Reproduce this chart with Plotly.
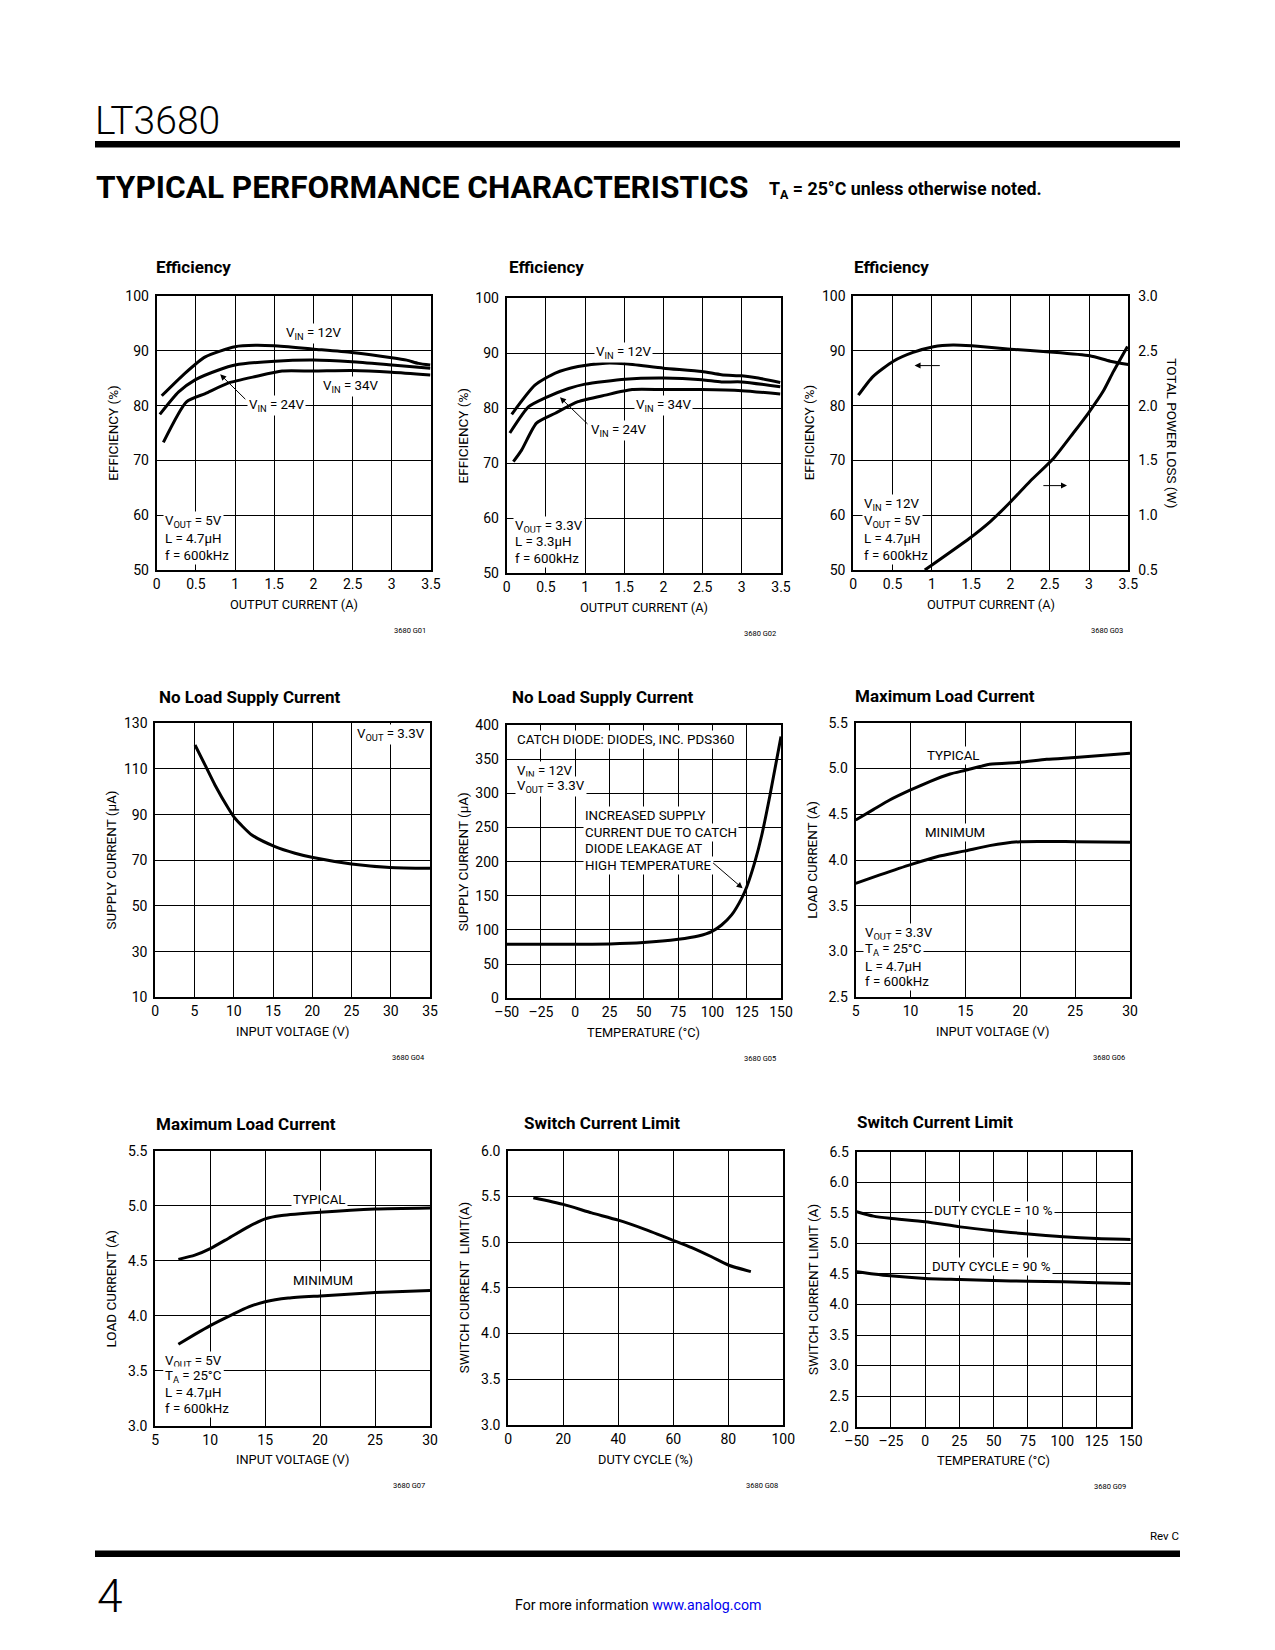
import plotly.graph_objects as go

W, H = 1275, 1650
FONT = "Roboto, Arial, sans-serif"
TICK_SIZE = 14
XTITLE_SIZE = 12.8
YTITLE_SIZE = 13.5
ANN_SIZE = 13.3

# ---------------- DATA ----------------
# Chart 1: Efficiency, VOUT=5V
c1_x_12 = [0.064, 0.36, 0.62, 1.0, 1.26, 1.5, 2.0, 2.49, 3.0, 3.19, 3.34, 3.49]
c1_y_12 = [81.8, 85.9, 88.9, 90.75, 91.0, 90.9, 90.3, 89.7, 88.75, 88.3, 87.7, 87.4]
c1_x_24 = [0.04, 0.28, 0.49, 0.79, 1.0, 1.51, 2.0, 2.49, 3.0, 3.49]
c1_y_24 = [78.4, 82.5, 84.7, 86.5, 87.4, 88.1, 88.3, 88.0, 87.4, 86.8]
c1_x_34 = [0.085, 0.38, 0.62, 0.91, 1.26, 1.6, 2.0, 2.49, 3.0, 3.49]
c1_y_34 = [73.3, 80.7, 82.2, 84.1, 85.3, 86.3, 86.3, 86.4, 86.1, 85.6]

# Chart 2: Efficiency, VOUT=3.3V
c2_x_12 = [0.064, 0.36, 0.62, 0.91, 1.26, 1.51, 2.0, 2.49, 2.74, 3.0, 3.21, 3.49]
c2_y_12 = [78.9, 84.2, 86.4, 87.6, 88.2, 88.1, 87.3, 86.7, 86.1, 85.9, 85.5, 84.7]
c2_x_24 = [0.04, 0.28, 0.49, 0.79, 1.0, 1.51, 2.0, 2.49, 2.74, 3.0, 3.49]
c2_y_24 = [75.5, 80.3, 81.9, 83.6, 84.4, 85.3, 85.5, 85.2, 84.8, 84.8, 83.9]
c2_x_34 = [0.085, 0.19, 0.38, 0.62, 0.91, 1.26, 1.6, 2.0, 2.49, 3.0, 3.49]
c2_y_34 = [70.3, 72.4, 77.3, 79.1, 81.2, 82.4, 83.4, 83.4, 83.4, 83.2, 82.6]

# Chart 3: Efficiency and total power loss, VIN=12V VOUT=5V
c3_x_eff = [0.064, 0.25, 0.51, 0.76, 1.02, 1.27, 1.51, 2.0, 2.5, 3.01, 3.27, 3.5]
c3_y_eff = [81.9, 85.3, 88.1, 89.7, 90.75, 91.06, 90.9, 90.3, 89.8, 89.1, 88.1, 87.5]
c3_x_loss = [0.91, 1.48, 1.74, 2.0, 2.25, 2.55, 2.8, 2.99, 3.18, 3.31, 3.49]
c3_y_loss = [0.5, 0.79, 0.94, 1.12, 1.31, 1.52, 1.75, 1.93, 2.13, 2.31, 2.54]

# Chart 4: No load supply current vs input voltage
c4_x = [5.06, 6.33, 7.6, 9.3, 10.15, 12.3, 15.25, 17.8, 20.1, 25.0, 29.9, 35.0]
c4_y = [120.5, 111.8, 103.0, 92.8, 88.4, 81.1, 76.0, 73.1, 71.2, 68.4, 66.9, 66.5]

# Chart 5: No load supply current vs temperature
c5_x = [-50, 0, 25.3, 49.6, 75.1, 89.7, 99.4, 106.7, 114, 121.3, 125, 131, 136, 142, 150]
c5_y = [79, 79, 79.5, 81.5, 86.3, 91.2, 97.6, 107.3, 122, 146.3, 163, 200, 239, 297.6, 383]

# Chart 6: Maximum load current, VOUT=3.3V
c6_x_typ = [5, 6.6, 8.1, 10.0, 11.8, 13.6, 15.0, 17.2, 20.0, 22.4, 25.0, 30.0]
c6_y_typ = [4.437, 4.55, 4.655, 4.765, 4.86, 4.94, 4.98, 5.045, 5.067, 5.10, 5.12, 5.165]
c6_x_min = [5, 7.2, 10.0, 12.4, 15.0, 17.2, 20.0, 25.0, 30.0]
c6_y_min = [3.745, 3.837, 3.95, 4.036, 4.10, 4.157, 4.20, 4.20, 4.193]

# Chart 7: Maximum load current, VOUT=5V
c7_x_typ = [7.1, 8.6, 10.0, 11.6, 13.5, 15.0, 16.5, 20.0, 25.0, 30.0]
c7_y_typ = [4.512, 4.55, 4.61, 4.70, 4.81, 4.88, 4.91, 4.94, 4.97, 4.98]
c7_x_min = [7.1, 8.6, 10.0, 12.0, 13.5, 15.0, 17.1, 20.0, 25.0, 30.0]
c7_y_min = [3.74, 3.83, 3.91, 4.01, 4.08, 4.127, 4.16, 4.18, 4.21, 4.23]

# Chart 8: Switch current limit vs duty cycle
c8_x = [9.1, 20, 30.3, 40, 49.7, 60, 66.7, 73.9, 80, 88.2]
c8_y = [5.486, 5.413, 5.32, 5.24, 5.14, 5.02, 4.94, 4.84, 4.75, 4.677]

# Chart 9: Switch current limit vs temperature
c9_x = [-50, -37.8, -25.7, 0, 25.4, 49.8, 75.3, 100.8, 125.2, 150]
c9_y_10 = [5.518, 5.446, 5.41, 5.354, 5.27, 5.207, 5.152, 5.109, 5.08, 5.065]
c9_y_90 = [4.536, 4.50, 4.47, 4.427, 4.41, 4.393, 4.38, 4.37, 4.356, 4.345]

# Tick labels
eff_x_ticks = [0, 0.5, 1, 1.5, 2, 2.5, 3, 3.5]
eff_x_text = ["0", "0.5", "1", "1.5", "2", "2.5", "3", "3.5"]
eff_y_ticks = [50, 60, 70, 80, 90, 100]
loss_ticks = [0.5, 1.0, 1.5, 2.0, 2.5, 3.0]
loss_text = ["0.5", "1.0", "1.5", "2.0", "2.5", "3.0"]
vin35_ticks = [0, 5, 10, 15, 20, 25, 30, 35]
supply_ticks = [10, 30, 50, 70, 90, 110, 130]
temp_ticks = [-50, -25, 0, 25, 50, 75, 100, 125, 150]
temp_text = ["\u201350", "\u201325", "0", "25", "50", "75", "100", "125", "150"]
supply2_ticks = [0, 50, 100, 150, 200, 250, 300, 350, 400]
vin30_ticks = [5, 10, 15, 20, 25, 30]
load6_ticks = [2.5, 3.0, 3.5, 4.0, 4.5, 5.0, 5.5]
load6_text = ["2.5", "3.0", "3.5", "4.0", "4.5", "5.0", "5.5"]
load7_ticks = [3.0, 3.5, 4.0, 4.5, 5.0, 5.5]
load7_text = ["3.0", "3.5", "4.0", "4.5", "5.0", "5.5"]
duty_ticks = [0, 20, 40, 60, 80, 100]
sw8_ticks = [3.0, 3.5, 4.0, 4.5, 5.0, 5.5, 6.0]
sw8_text = ["3.0", "3.5", "4.0", "4.5", "5.0", "5.5", "6.0"]
sw9_ticks = [2.0, 2.5, 3.0, 3.5, 4.0, 4.5, 5.0, 5.5, 6.0, 6.5]
sw9_text = ["2.0", "2.5", "3.0", "3.5", "4.0", "4.5", "5.0", "5.5", "6.0", "6.5"]


def X(px):
    return px / W


def Y(py):
    return 1 - py / H


# ---------------- CHART LAYOUTS ----------------
charts = [
    dict(box=(156.7, 431, 296, 570), xr=[0, 3.5], yr=[50, 100], xt=eff_x_ticks, xtt=eff_x_text,
         yt=eff_y_ticks, ytt=None, title="Efficiency", tpos=(154.3, 266.7),
         xtitle="OUTPUT CURRENT (A)", ytitle="EFFICIENCY (%)", code="3680 G01"),
    dict(box=(506.7, 781, 298.3, 573.3), xr=[0, 3.5], yr=[50, 100], xt=eff_x_ticks, xtt=eff_x_text,
         yt=eff_y_ticks, ytt=None, title="Efficiency", tpos=(506.7, 266.7),
         xtitle="OUTPUT CURRENT (A)", ytitle="EFFICIENCY (%)", code="3680 G02"),
    dict(box=(853.3, 1128.3, 296, 570), xr=[0, 3.5], yr=[50, 100], xt=eff_x_ticks, xtt=eff_x_text,
         yt=eff_y_ticks, ytt=None, title="Efficiency", tpos=(851.7, 266.7),
         xtitle="OUTPUT CURRENT (A)", ytitle="EFFICIENCY (%)", code="3680 G03"),
    dict(box=(155.3, 430, 723.3, 997.3), xr=[0, 35], yr=[10, 130], xt=vin35_ticks, xtt=None,
         yt=supply_ticks, ytt=None, title="No Load Supply Current", tpos=(157.3, 696.7),
         xtitle="INPUT VOLTAGE (V)", ytitle="SUPPLY CURRENT (\u00b5A)", code="3680 G04"),
    dict(box=(506.7, 781, 725, 998.3), xr=[-50, 150], yr=[0, 400], xt=temp_ticks, xtt=temp_text,
         yt=supply2_ticks, ytt=None, title="No Load Supply Current", tpos=(510, 697),
         xtitle="TEMPERATURE (\u00b0C)", ytitle="SUPPLY CURRENT (\u00b5A)", code="3680 G05"),
    dict(box=(855.7, 1130, 722.7, 997.3), xr=[5, 30], yr=[2.5, 5.5], xt=vin30_ticks, xtt=None,
         yt=load6_ticks, ytt=load6_text, title="Maximum Load Current", tpos=(853.3, 696),
         xtitle="INPUT VOLTAGE (V)", ytitle="LOAD CURRENT (A)", code="3680 G06"),
    dict(box=(155.3, 430, 1150.7, 1425.7), xr=[5, 30], yr=[3.0, 5.5], xt=vin30_ticks, xtt=None,
         yt=load7_ticks, ytt=load7_text, title="Maximum Load Current", tpos=(154.3, 1124.3),
         xtitle="INPUT VOLTAGE (V)", ytitle="LOAD CURRENT (A)", code="3680 G07"),
    dict(box=(508.3, 783.3, 1150.7, 1425), xr=[0, 100], yr=[3.0, 6.0], xt=duty_ticks, xtt=None,
         yt=sw8_ticks, ytt=sw8_text, title="Switch Current Limit", tpos=(522.3, 1123.3),
         xtitle="DUTY CYCLE (%)", ytitle="SWITCH CURRENT  LIMIT(A)", code="3680 G08"),
    dict(box=(856.7, 1130.7, 1151.7, 1426.7), xr=[-50, 150], yr=[2.0, 6.5], xt=temp_ticks, xtt=temp_text,
         yt=sw9_ticks, ytt=sw9_text, title="Switch Current Limit", tpos=(855, 1122.3),
         xtitle="TEMPERATURE (\u00b0C)", ytitle="SWITCH CURRENT LIMIT (A)", code="3680 G09"),
]

fig = go.Figure()
annotations = []
shapes = []
layout = {}

tickfont = dict(family=FONT, size=TICK_SIZE, color="black")

for i, c in enumerate(charts):
    n = i + 1
    sx = "" if n == 1 else str(n)
    L, R, T, B = c["box"]
    xa = dict(domain=[X(L), X(R)], range=c["xr"], anchor="y" + sx,
              tickvals=c["xt"], showgrid=True, gridcolor="black", gridwidth=1,
              showline=True, linecolor="black", linewidth=2, mirror=True,
              ticks="", zeroline=False, tickfont=tickfont, ticklabelstandoff=0,
              automargin=False, fixedrange=True)
    if c["xtt"] is not None:
        xa["ticktext"] = c["xtt"]
    ya = dict(domain=[Y(B), Y(T)], range=c["yr"], anchor="x" + sx,
              tickvals=c["yt"], showgrid=True, gridcolor="black", gridwidth=1,
              showline=True, linecolor="black", linewidth=2, mirror=True,
              ticks="", zeroline=False, tickfont=tickfont, ticklabelstandoff=3,
              automargin=False, fixedrange=True)
    if c["ytt"] is not None:
        ya["ticktext"] = c["ytt"]
    layout["xaxis" + sx] = xa
    layout["yaxis" + sx] = ya
    # chart title
    annotations.append(dict(text="<b>" + c["title"] + "</b>", x=X(c["tpos"][0]), y=Y(c["tpos"][1]),
                            xref="paper", yref="paper", xanchor="left", yanchor="middle",
                            showarrow=False, font=dict(family=FONT, size=17, color="black")))
    # axis titles
    annotations.append(dict(text=c["xtitle"], x=X((L + R) / 2), y=Y(B + 34),
                            xref="paper", yref="paper", xanchor="center", yanchor="middle",
                            showarrow=False, font=dict(family=FONT, size=XTITLE_SIZE, color="black")))
    annotations.append(dict(text=c["ytitle"], x=X(L - 44), y=Y((T + B) / 2), textangle=-90,
                            xref="paper", yref="paper", xanchor="center", yanchor="middle",
                            showarrow=False, font=dict(family=FONT, size=YTITLE_SIZE, color="black")))
    annotations.append(dict(text=c["code"], x=X(R - 3), y=Y(B + 60),
                            xref="paper", yref="paper", xanchor="right", yanchor="middle",
                            showarrow=False, font=dict(family=FONT, size=7.5, color="black")))

# secondary axis for chart 3
layout["yaxis10"] = dict(domain=layout["yaxis3"]["domain"], range=[0.5, 3.0], anchor="x3",
                         overlaying="y3", side="right", tickvals=loss_ticks, ticktext=loss_text,
                         showgrid=False, showline=False, ticks="", zeroline=False,
                         tickfont=tickfont, ticklabelstandoff=9, automargin=False, fixedrange=True)
annotations.append(dict(text="TOTAL POWER LOSS (W)", x=X(1171.7), y=Y(433), textangle=90,
                        xref="paper", yref="paper", xanchor="center", yanchor="middle",
                        showarrow=False, font=dict(family=FONT, size=YTITLE_SIZE, color="black")))

LINE = dict(color="black", width=3, shape="spline", smoothing=0.6)


def add(xs, ys, n, yax=None):
    sx = "" if n == 1 else str(n)
    fig.add_trace(go.Scatter(x=xs, y=ys, mode="lines", line=LINE, xaxis="x" + sx,
                             yaxis=yax if yax else "y" + sx, hoverinfo="skip"))


add(c1_x_12, c1_y_12, 1)
add(c1_x_24, c1_y_24, 1)
add(c1_x_34, c1_y_34, 1)
add(c2_x_12, c2_y_12, 2)
add(c2_x_24, c2_y_24, 2)
add(c2_x_34, c2_y_34, 2)
add(c3_x_eff, c3_y_eff, 3)
add(c3_x_loss, c3_y_loss, 3, yax="y10")
add(c4_x, c4_y, 4)
add(c5_x, c5_y, 5)
add(c6_x_typ, c6_y_typ, 6)
add(c6_x_min, c6_y_min, 6)
add(c7_x_typ, c7_y_typ, 7)
add(c7_x_min, c7_y_min, 7)
add(c8_x, c8_y, 8)
add(c9_x, c9_y_10, 9)
add(c9_x, c9_y_90, 9)


def lab(text, x, y, n, xanchor="center", bg="white", size=ANN_SIZE):
    sx = "" if n == 1 else str(n)
    annotations.append(dict(text=text, x=x, y=y, xref="x" + sx, yref="y" + sx,
                            xanchor=xanchor, yanchor="middle", showarrow=False,
                            bgcolor=bg, borderpad=1,
                            font=dict(family=FONT, size=size, color="black")))


def arrow(x0, y0, x1, y1, n, yref=None):
    sx = "" if n == 1 else str(n)
    yr = yref if yref else "y" + sx
    annotations.append(dict(text="", x=x1, y=y1, ax=x0, ay=y0, xref="x" + sx, yref=yr,
                            axref="x" + sx, ayref=yr, showarrow=True, arrowhead=2,
                            arrowsize=1.2, arrowwidth=1, arrowcolor="black"))


VIN = "V<sub>IN</sub>"
VOUT = "V<sub>OUT</sub>"
TA = "T<sub>A</sub>"

# chart 1 labels
lab(VIN + " = 12V", 2.0, 93.2, 1)
lab(VIN + " = 24V", 1.53, 80.1, 1)
lab(VIN + " = 34V", 2.47, 83.45, 1)
arrow(1.15, 80.9, 0.81, 85.7, 1)
lab(VOUT + " = 5V", 0.085, 58.8, 1, xanchor="left")
lab("L = 4.7\u00b5H", 0.085, 55.8, 1, xanchor="left")
lab("f = 600kHz", 0.085, 52.7, 1, xanchor="left")

# chart 2 labels
lab(VIN + " = 12V", 1.49, 90.2, 2)
lab(VIN + " = 34V", 2.0, 80.5, 2)
lab(VIN + " = 24V", 1.43, 75.9, 2)
arrow(1.05, 76.9, 0.68, 82.0, 2)
lab(VOUT + " = 3.3V", 0.085, 58.5, 2, xanchor="left")
lab("L = 3.3\u00b5H", 0.085, 55.8, 2, xanchor="left")
lab("f = 600kHz", 0.085, 52.7, 2, xanchor="left")

# chart 3 labels
arrow(1.12, 87.3, 0.78, 87.3, 3)
arrow(2.4, 1.27, 2.72, 1.27, 3, yref="y10")
lab(VIN + " = 12V", 0.106, 61.9, 3, xanchor="left")
lab(VOUT + " = 5V", 0.106, 58.8, 3, xanchor="left")
lab("L = 4.7\u00b5H", 0.106, 55.8, 3, xanchor="left")
lab("f = 600kHz", 0.106, 52.7, 3, xanchor="left")

# chart 4 labels
lab(VOUT + " = 3.3V", 30.0, 124.9, 4)

# chart 5 labels
lab("CATCH DIODE: DIODES, INC. PDS360", -43.9, 379.5, 5, xanchor="left")
lab(VIN + " = 12V", -43.9, 331.7, 5, xanchor="left")
lab(VOUT + " = 3.3V", -43.9, 309.8, 5, xanchor="left")
lab("INCREASED SUPPLY", 5.9, 267, 5, xanchor="left")
lab("CURRENT DUE TO CATCH", 5.9, 243, 5, xanchor="left")
lab("DIODE LEAKAGE AT", 5.9, 219, 5, xanchor="left")
lab("HIGH TEMPERATURE", 5.9, 195, 5, xanchor="left")
arrow(99.4, 200, 122, 161, 5)

# chart 6 labels
lab("TYPICAL", 13.9, 5.14, 6)
lab("MINIMUM", 14.05, 4.30, 6)
lab(VOUT + " = 3.3V", 5.7, 3.2, 6, xanchor="left")
lab(TA + " = 25\u00b0C", 5.7, 3.018, 6, xanchor="left")
lab("L = 4.7\u00b5H", 5.7, 2.835, 6, xanchor="left")
lab("f = 600kHz", 5.7, 2.67, 6, xanchor="left")

# chart 7 labels
lab("TYPICAL", 19.9, 5.058, 7)
lab("MINIMUM", 20.3, 4.32, 7)
lab(VOUT + " = 5V", 5.73, 3.58, 7, xanchor="left")
lab(TA + " = 25\u00b0C", 5.73, 3.445, 7, xanchor="left")
lab("L = 4.7\u00b5H", 5.73, 3.30, 7, xanchor="left")
lab("f = 600kHz", 5.73, 3.158, 7, xanchor="left")

# chart 9 labels
lab("DUTY CYCLE = 10 %", 49.8, 5.534, 9)
lab("DUTY CYCLE = 90 %", 48.5, 4.618, 9)

# ---------------- PAGE HEADER / FOOTER ----------------
annotations.append(dict(text="LT3680", x=X(93), y=Y(121), xref="paper", yref="paper",
                        xanchor="left", yanchor="middle", showarrow=False,
                        font=dict(family=FONT, size=39, color="black", weight=300)))
shapes.append(dict(type="rect", xref="paper", yref="paper", x0=X(95), x1=X(1180),
                   y0=Y(147.5), y1=Y(141), fillcolor="black", line=dict(width=0)))
annotations.append(dict(text="<b>TYPICAL PERFORMANCE CHARACTERISTICS</b>", x=X(94), y=Y(188),
                        xref="paper", yref="paper", xanchor="left", yanchor="middle",
                        showarrow=False, font=dict(family=FONT, size=31.6, color="black")))
annotations.append(dict(text="<b>T<sub>A</sub> = 25\u00b0C unless otherwise noted.</b>", x=X(767), y=Y(190),
                        xref="paper", yref="paper", xanchor="left", yanchor="middle",
                        showarrow=False, font=dict(family=FONT, size=17.8, color="black")))
annotations.append(dict(text="Rev C", x=X(1181), y=Y(1536), xref="paper", yref="paper",
                        xanchor="right", yanchor="middle", showarrow=False,
                        font=dict(family=FONT, size=11.5, color="black")))
shapes.append(dict(type="rect", xref="paper", yref="paper", x0=X(95), x1=X(1180),
                   y0=Y(1557), y1=Y(1550.5), fillcolor="black", line=dict(width=0)))
annotations.append(dict(text="4", x=X(95), y=Y(1596), xref="paper", yref="paper",
                        xanchor="left", yanchor="middle", showarrow=False,
                        font=dict(family=FONT, size=46, color="black", weight=300)))
annotations.append(dict(text="For more information <span style='color:#0000ee'>www.analog.com</span>",
                        x=X(638), y=Y(1605), xref="paper", yref="paper",
                        xanchor="center", yanchor="middle", showarrow=False,
                        font=dict(family=FONT, size=14.2, color="black")))

fig.update_layout(template="none", width=W, height=H,
                  margin=dict(l=0, r=0, t=0, b=0, pad=0, autoexpand=False),
                  paper_bgcolor="white", plot_bgcolor="white", showlegend=False,
                  font=dict(family=FONT, color="black"),
                  annotations=annotations, shapes=shapes, **layout)

fig.write_html("out.html", config={"displayModeBar": False, "staticPlot": True},
               post_script="document.body.style.margin='0px';")
